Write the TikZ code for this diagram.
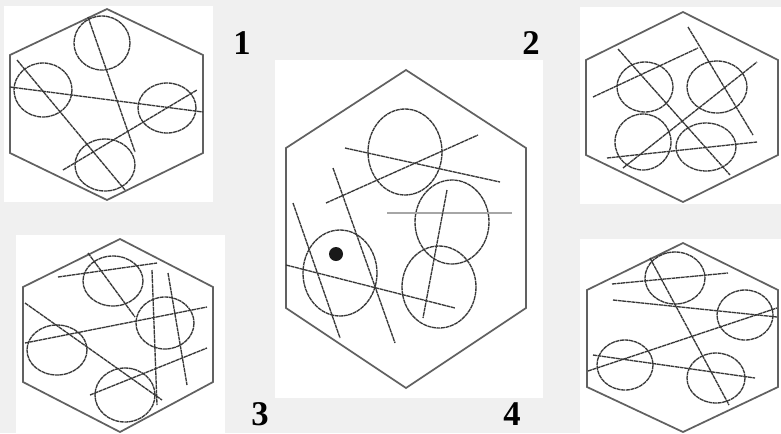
\documentclass[tikz,border=0pt]{standalone}
\usepackage{fontspec}
\setmainfont{Liberation Serif}
\begin{document}
\begin{tikzpicture}[x=0.75pt,y=-0.75pt,
  panel/.style={fill=white,draw=none},
  hexa/.style={draw=black!62,line width=1.3pt,line join=miter},
  ring/.style={draw=black!78,line width=1pt,dash pattern=on 3pt off 0.45pt},
  stroke/.style={draw=black!78,line width=1pt,dash pattern=on 3pt off 0.45pt},
  grayline/.style={draw=black!35,line width=1.5pt},
  lab/.style={font=\fontsize{26}{28}\selectfont\bfseries,inner sep=0pt,anchor=center}]
\useasboundingbox (0,0) rectangle (781,433);
\fill[black!6] (0,0) rectangle (781,433);
% panels
\fill[panel] (4,6) rectangle (213,202);
\fill[panel] (580,7) rectangle (781,204);
\fill[panel] (16,235) rectangle (225,433);
\fill[panel] (580,239) rectangle (781,433);
\fill[panel] (275,60) rectangle (543,398);

% ---------- panel 1 (top left)
\draw[hexa] (107,9) -- (203,55) -- (203,153) -- (107,200) -- (10,153) -- (10,55) -- cycle;
\draw[ring] (102,43) ellipse [x radius=28,y radius=27];
\draw[ring] (43,90) ellipse [x radius=29,y radius=27];
\draw[ring] (167,108) ellipse [x radius=29,y radius=25];
\draw[ring] (105,165) ellipse [x radius=30,y radius=26];
\draw[stroke] (88,17) -- (135,152);
\draw[stroke] (17,60) -- (125,190);
\draw[stroke] (10,87) -- (203,112);
\draw[stroke] (63,170) -- (197,90);

% ---------- panel 2 (top right)
\draw[hexa] (683,12) -- (778,60) -- (778,155) -- (683,202) -- (586,155) -- (586,60) -- cycle;
\draw[ring] (645,87) ellipse [x radius=28,y radius=25];
\draw[ring] (717,87) ellipse [x radius=30,y radius=26];
\draw[ring] (643,142) ellipse [x radius=28,y radius=28];
\draw[ring] (706,147) ellipse [x radius=30,y radius=24];
\draw[stroke] (593,97) -- (698,48);
\draw[stroke] (618,49) -- (730,175);
\draw[stroke] (688,27) -- (753,135);
\draw[stroke] (623,168) -- (757,62);
\draw[stroke] (607,158) -- (757,142);

% ---------- panel 3 (bottom left)
\draw[hexa] (120,239) -- (213,287) -- (213,382) -- (120,432) -- (23,382) -- (23,287) -- cycle;
\draw[ring] (113,281) ellipse [x radius=30,y radius=25];
\draw[ring] (165,323) ellipse [x radius=29,y radius=26];
\draw[ring] (57,350) ellipse [x radius=30,y radius=25];
\draw[ring] (125,395) ellipse [x radius=30,y radius=27];
\draw[stroke] (58,277) -- (157,263);
\draw[stroke] (88,253) -- (135,317);
\draw[stroke] (152,270) -- (157,405);
\draw[stroke] (168,273) -- (187,385);
\draw[stroke] (25,303) -- (162,400);
\draw[stroke] (25,343) -- (207,307);
\draw[stroke] (90,395) -- (207,348);

% ---------- panel 4 (bottom right)
\draw[hexa] (683,243) -- (778,290) -- (778,387) -- (683,432) -- (587,387) -- (587,290) -- cycle;
\draw[ring] (675,278) ellipse [x radius=30,y radius=26];
\draw[ring] (745,315) ellipse [x radius=28,y radius=25];
\draw[ring] (625,365) ellipse [x radius=28,y radius=25];
\draw[ring] (716,378) ellipse [x radius=29,y radius=25];
\draw[stroke] (612,284) -- (728,273);
\draw[stroke] (613,300) -- (777,317);
\draw[stroke] (650,258) -- (729,405);
\draw[stroke] (588,371) -- (777,308);
\draw[stroke] (593,355) -- (755,378);

% ---------- main panel
\draw[hexa] (406,70) -- (526,148) -- (526,308) -- (406,388) -- (286,308) -- (286,148) -- cycle;
\draw[ring] (405,152) ellipse [x radius=37,y radius=43];
\draw[ring] (452,222) ellipse [x radius=37,y radius=42];
\draw[ring] (439,287) ellipse [x radius=37,y radius=41];
\draw[ring] (340,273) ellipse [x radius=37,y radius=43];
\fill[black!90] (336,254) circle [radius=7];
\draw[stroke] (345,148) -- (500,182);
\draw[stroke] (326,203) -- (478,135);
\draw[grayline] (387,213) -- (512,213);
\draw[stroke] (447,190) -- (423,318);
\draw[stroke] (286,265) -- (455,308);
\draw[stroke] (293,203) -- (340,338);
\draw[stroke] (333,168) -- (395,343);

% ---------- labels
\node[lab] (l1) at (242,43) {1};
\node[lab] (l2) at (531,43) {2};
\node[lab] (l3) at (260,414) {3};
\node[lab] (l4) at (512,414) {4};
\end{tikzpicture}
\end{document}
